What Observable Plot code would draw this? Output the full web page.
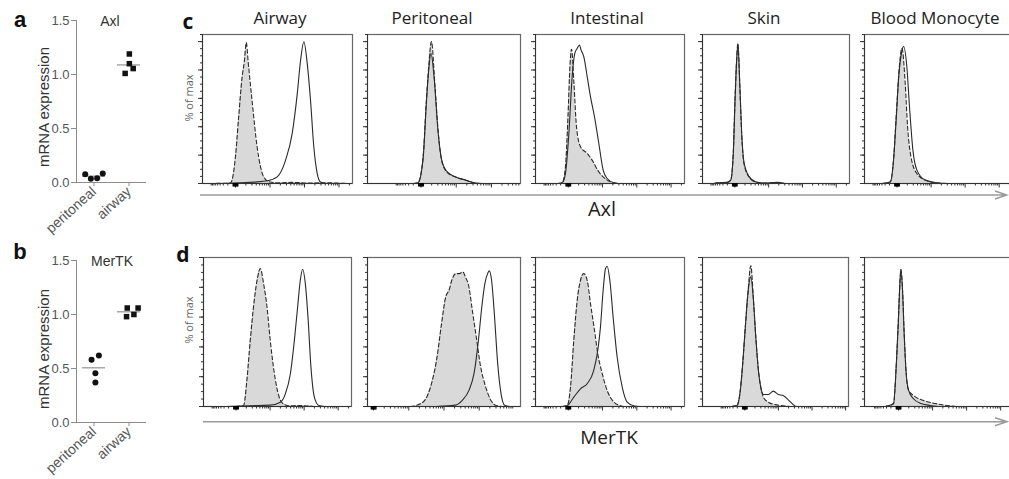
<!DOCTYPE html>
<html><head><meta charset="utf-8">
<script src="https://cdn.jsdelivr.net/npm/d3@7"></script>
<script src="https://cdn.jsdelivr.net/npm/@observablehq/plot@0.6"></script>
<style>
body{margin:0;background:#fff;}
#fig{position:relative;width:1009px;height:479px;overflow:hidden;background:#fff;}
.t{position:absolute;white-space:nowrap;line-height:1;transform:translate(-50%,-50%);}
.os{font-family:"Open Sans",sans-serif;color:#222;}
.ar{font-family:"Liberation Sans",Arial,sans-serif;color:#333;}
</style></head><body><div id="fig"></div>
<script>
// ---------- qPCR (panels a, b) ----------
const qpcrCats = ["peritoneal", "airway"];
const axlPeritoneal = [0.077, 0.034, 0.040, 0.083];
const axlPeritonealJitter = [-0.25, -0.09, 0.09, 0.25];
const axlAirway = [1.19, 1.10, 1.055, 1.01];
const axlAirwayJitter = [0.01, 0.01, 0.12, -0.11];
const mertkPeritoneal = [0.58, 0.62, 0.456, 0.37];
const mertkPeritonealJitter = [-0.07, 0.14, 0.04, 0.04];
const mertkAirway = [1.06, 0.98, 1.00, 1.06];
const mertkAirwayJitter = [-0.05, -0.07, 0.14, 0.26];
const qpcrTicks = [0, 0.5, 1.0, 1.5];

// ---------- flow histograms (panels c, d): [channel, % of max] ----------
const tissues = ["Airway", "Peritoneal", "Intestinal", "Skin", "Blood Monocyte"];
const axlIso = {
  Airway: [[5,0],[18.5,0.3],[19.7,2.4],[21.9,18.2],[24.1,46.6],[26.4,75],[27.9,86],[29.2,99.3],[30.5,85],[33,58.8],[36.4,25.9],[40.8,4.7],[45,1],[50,0.5],[60,0.8],[70,0.3],[80,0.5],[90,0.3],[97,0]],
  Peritoneal: [[30,0],[32.9,0.5],[36.3,18],[38.5,58.8],[40,82],[41.8,100],[44,70.6],[46.3,35.3],[48.4,16.5],[51.8,8.2],[57.3,4.7],[64,2.4],[69.6,0.5],[75,0]],
  Intestinal: [[15,0],[17.9,0.5],[20.1,11.7],[21.8,47],[23.1,82],[24.2,94.6],[25.8,70.6],[27.5,40],[30.2,25.9],[34.7,21.2],[38,16.5],[42.5,8.2],[48.1,2.4],[52.6,0.5],[56,0]],
  Skin: [[8,0],[10,0.5],[17,0.8],[19.2,2.4],[21,23.5],[22.1,58.8],[23.2,87],[24.1,98.9],[25.3,70.6],[26.6,35.3],[28.2,14.1],[31.6,4.7],[36.1,1],[42,0.3],[50.8,0.6],[56,0]],
  "Blood Monocyte": [[12,0],[17.4,1],[19.6,16.5],[21.4,47],[23.2,77.6],[25.3,95.3],[27.5,70.6],[29.1,40],[31.4,18.8],[35.4,7],[42.2,1.9],[50,0.3],[56,0]]
};
const axlStain = {
  Airway: [[15,0],[25,0.5],[35,1],[43,1.9],[49.8,4.7],[55.4,16.5],[59.8,35.3],[63.2,63.5],[65.4,87],[67.6,99.9],[69.8,84.8],[72,58.8],[74.2,25.9],[76.5,7],[78.7,1],[82,0]],
  Peritoneal: [[30,0],[33,0.5],[36.3,17],[38.5,57],[40,80],[41.5,91.8],[43.5,75],[46,38],[48.4,17],[51.8,8.5],[57.3,4.7],[64,2.4],[69.6,0.5],[75,0]],
  Intestinal: [[15,0],[17.9,0.5],[20.1,7],[22.4,35.3],[24.6,75.3],[26.4,91.8],[28,95.3],[29.5,97.6],[30.6,94],[32.4,89.4],[34.7,75.3],[36.9,61.2],[39.6,47],[42.5,28.2],[45.4,9.4],[48.1,3.5],[52.6,0.5],[56,0]],
  Skin: [[8,0],[10,0.5],[17,0.8],[19.2,2.4],[21,22],[22.1,57],[23.2,86],[24.1,97.5],[25.3,72],[26.6,37],[28.2,15],[31.6,5],[36.1,1.2],[42,0.3],[50.8,0.8],[56,0]],
  "Blood Monocyte": [[12,0],[17.4,1],[19.6,16],[21.4,45],[23.2,76],[25.2,93],[26.4,96.5],[28.6,82.3],[30.4,54],[32.7,23.5],[35.4,9.4],[41,2.4],[48.9,0.5],[55,0]]
};
const mertkIso = {
  Airway: [[22,0],[27.1,0.7],[29.3,17.5],[31.6,44.4],[34.3,71.3],[36.6,87],[38.4,92.6],[40.6,82.5],[42.9,66.8],[45.1,44.4],[47.9,22],[50.8,7.4],[54.2,1.6],[58,0.5],[65,0.6],[75,0]],
  Peritoneal: [[28,0],[31.8,0.7],[37.3,4],[41.8,15.3],[45.1,30.9],[48.4,55.6],[51.1,73.5],[53.3,78],[55.1,84.7],[57.8,89.2],[60,89.2],[62.3,90.3],[64,87],[66.3,80.2],[68.5,64.6],[71.1,46.6],[74,26.4],[77.3,13],[80.7,4],[84,0.7],[88,0]],
  Intestinal: [[18,0],[21.3,0.7],[23.5,13],[25.7,44.4],[28,71.3],[30.2,84.7],[32.4,89.2],[34.7,84.7],[36.9,69],[39.6,51.1],[41.8,35.4],[44.8,22],[48.1,10.8],[52.6,3],[57,0.5],[60,0]],
  Skin: [[20,0],[23.6,0.7],[25.9,10.8],[27.7,30.9],[29.5,55.6],[31.1,75.8],[33.1,94.5],[34.9,71.3],[36.5,46.6],[38.3,24.2],[39.9,13],[41.7,6.3],[45.1,2.9],[49.7,1.3],[55.3,0.5],[60,0]],
  "Blood Monocyte": [[14,0],[19.6,1.8],[21.4,26.4],[22.8,55.6],[23.7,78],[24.6,91.9],[25.7,78],[26.8,48.9],[28.2,22],[29.8,10.8],[33.1,7.4],[39.9,4],[46.6,2.2],[55.7,0.7],[62,0]]
};
const mertkStain = {
  Airway: [[15,0],[30,0.5],[45.1,0.9],[51.9,2.9],[55.3,8.5],[58.7,22],[61.4,44.4],[63.6,66.8],[65.4,84.7],[67,92.1],[68.8,82.5],[70.6,60],[72.6,26.4],[74.9,6.3],[77.9,0.7],[82,0]],
  Peritoneal: [[45,0],[57.3,0.9],[61.8,4],[66.3,10.8],[69.6,22],[72.5,44.4],[74.7,66.8],[76.7,82.5],[78.5,89.2],[79.6,91],[81.1,84.7],[82.9,62.3],[85.1,28.7],[87.3,8.5],[89.6,0.9],[93,0]],
  Intestinal: [[18,0],[21.3,0.5],[25.7,6.3],[30.2,11.9],[34.7,15.3],[39.1,24.2],[41.8,37.7],[43.6,53.3],[45.4,78],[47,92.6],[48.1,94.1],[49.9,84.7],[52.1,60],[54.8,33.2],[58.2,13],[61.5,3],[66,0.5],[70,0]],
  Skin: [[20,0],[23.6,0.7],[25.9,10.8],[27.7,30.9],[29.5,55.6],[31.1,75.8],[33.1,87],[34.9,71.3],[36.5,46.6],[38.3,24.2],[39.9,13],[41.7,8.1],[45.1,8.1],[48.5,10.3],[51.9,8.1],[55.3,7.4],[58.7,4.5],[62.1,1.3],[64.4,0],[68,0]],
  "Blood Monocyte": [[14,0],[19.6,1.8],[21.4,26.4],[22.8,55.6],[23.7,78],[24.6,91.9],[25.7,78],[26.8,48.9],[28.2,22],[29.8,10.8],[33.1,5.2],[37.6,2.2],[44.4,0.7],[50,0]]
};
const pctMajorTicks = [0, 20, 40, 60, 80, 100];

// ---------- layout ----------
const fig = document.getElementById("fig");
function place(el, left, top) {
  el.style.position = "absolute"; el.style.left = left + "px"; el.style.top = top + "px";
  fig.appendChild(el);
}
function text(str, x, y, cls, style) {
  const d = document.createElement("div");
  d.className = "t " + cls; d.textContent = str;
  d.style.left = x + "px"; d.style.top = y + "px";
  Object.assign(d.style, style || {});
  fig.appendChild(d);
}

function qpcrPlot(peri, periJ, air, airJ) {
  const pts = [
    ...peri.map((v, i) => ({cat: 1, j: periJ[i], v, s: "circle"})),
    ...air.map((v, i) => ({cat: 2, j: airJ[i], v, s: "square"}))
  ];
  const means = [{cat: 1, m: d3.mean(peri)}, {cat: 2, m: d3.mean(air)}];
  return Plot.plot({
    width: 160, height: 232, marginLeft: 76, marginRight: 14, marginTop: 20, marginBottom: 50,
    style: {background: "transparent", overflow: "visible"},
    x: {domain: [0.5, 2.5]},
    y: {domain: [0, 1.5]},
    marks: [
      Plot.ruleX([0.5], {stroke: "#8c8c8c"}),
      Plot.ruleY([0], {stroke: "#8c8c8c"}),
      Plot.axisY(qpcrTicks, {tickSize: 5, tickFormat: d3.format(".1f"), fontSize: 13, label: null,
        stroke: "#8c8c8c", fill: "#555", tickPadding: 2, fontFamily: "Liberation Sans, Arial, sans-serif"}),
      Plot.axisX([1, 2], {tickSize: 4, tickFormat: d => qpcrCats[d - 1], tickRotate: -42, fontSize: 14, label: null,
        stroke: "#8c8c8c", fill: "#555", tickPadding: 3, fontFamily: "Liberation Sans, Arial, sans-serif"}),
      Plot.ruleY(means, {y: "m", x1: d => d.cat - 0.33, x2: d => d.cat + 0.33, stroke: "#9a9a9a", strokeWidth: 1.3}),
      Plot.dot(pts, {x: d => d.cat + d.j, y: "v", symbol: "s", r: d => d.s === "square" ? 2.8 : 2.6, fill: "#111", stroke: "none"})
    ]
  });
}

function xTicksFor(zero) {
  const majors = [0, 23, 46, 69].map(k => zero + k).filter(v => v >= 0 && v <= 100);
  const minors = [];
  [0, 23, 46, 69].forEach(k => {
    for (let m = 2; m <= 9; m++) minors.push(zero + k + 23 * Math.log10(m));
  });
  for (let m = 2; m <= 9; m++) minors.push(zero - 17 * Math.log10(m));
  const cluster = [-1.5, -0.9, -0.3, 0.3, 0.9, 1.5].map(k => zero + k);
  const inR = v => v > 0.5 && v < 99.5;
  return {majors: majors.filter(inR), minors: minors.filter(inR), cluster: cluster.filter(inR)};
}

function histPlot(iso, stain, w, h, ymax, zero) {
  const ml = 12, mr = 2, mt = 2, mb = 8;
  const isoD = iso.map(([x, y]) => ({x, y}));
  const stD = stain.map(([x, y]) => ({x, y}));
  const tk = xTicksFor(zero);
  const axisOpts = {tickFormat: () => "", label: null, stroke: "#333"};
  const svg = Plot.plot({
    width: w + ml + mr, height: h + mt + mb,
    marginLeft: ml, marginRight: mr, marginTop: mt, marginBottom: mb,
    style: {background: "transparent", overflow: "visible"},
    x: {domain: [0, 100]},
    y: {domain: [0, ymax]},
    marks: [
      Plot.areaY(isoD, {x: "x", y: "y", curve: "monotone-x", fill: "#d9d9d9"}),
      Plot.lineY(stD, {x: "x", y: "y", curve: "monotone-x", stroke: "#2a2a2a", strokeWidth: 1.1}),
      Plot.lineY(isoD, {x: "x", y: "y", curve: "monotone-x", stroke: "#2a2a2a", strokeWidth: 1.1, strokeDasharray: "4,2.5"}),
      Plot.frame({stroke: "#666", strokeWidth: 1.2}),
      Plot.ruleX([0], {stroke: "#333"}),
      Plot.ruleY([0], {stroke: "#333"}),
      Plot.axisY(d3.range(0, ymax + 0.1, 5), {...axisOpts, tickSize: 2}),
      Plot.axisY(pctMajorTicks, {...axisOpts, tickSize: 4}),
      Plot.axisX(tk.minors, {...axisOpts, tickSize: 2.5}),
      Plot.axisX(tk.majors, {...axisOpts, tickSize: 4.5}),
      Plot.axisX(tk.cluster, {...axisOpts, tickSize: 3.5, strokeWidth: 1.4, stroke: "#000"})
    ]
  });
  return {svg, ml, mt};
}

// panels a, b
place(qpcrPlot(axlPeritoneal, axlPeritonealJitter, axlAirway, axlAirwayJitter), 0, 0);
place(qpcrPlot(mertkPeritoneal, mertkPeritonealJitter, mertkAirway, mertkAirwayJitter), 0, 240.3);

// panels c, d
const rows = [
  {iso: axlIso, stain: axlStain, top: 34, h: 149, ymax: 105,
   lefts: [202, 367, 535, 702, 864], widths: [150, 153, 149, 147, 148], zeros: [22, 35, 22, 22, 22]},
  {iso: mertkIso, stain: mertkStain, top: 257, h: 149, ymax: 100,
   lefts: [203, 367, 535, 702, 864], widths: [148, 153, 149, 146, 148], zeros: [22, 4, 22, 29, 23]}
];
rows.forEach(r => {
  tissues.forEach((t, i) => {
    const p = histPlot(r.iso[t], r.stain[t], r.widths[i], r.h, r.ymax, r.zeros[i]);
    place(p.svg, r.lefts[i] - p.ml, r.top - p.mt);
  });
});

// axis arrows under rows
const ns = "http://www.w3.org/2000/svg";
const ov = document.createElementNS(ns, "svg");
ov.setAttribute("width", 1009); ov.setAttribute("height", 479);
ov.style.position = "absolute"; ov.style.left = "0px"; ov.style.top = "0px"; ov.style.pointerEvents = "none";
[[200, 195], [203, 421.7]].forEach(([x0, y]) => {
  const p = document.createElementNS(ns, "path");
  p.setAttribute("d", `M${x0},${y}H1007M995,${y - 4}L1007,${y}L995,${y + 4}`);
  p.setAttribute("stroke", "#9a9a9a"); p.setAttribute("stroke-width", "1.5"); p.setAttribute("fill", "none");
  ov.appendChild(p);
});
fig.appendChild(ov);

// texts
text("a", 20, 20, "ar", {fontSize: "22px", fontWeight: "bold", color: "#111"});
text("b", 20, 252, "ar", {fontSize: "22px", fontWeight: "bold", color: "#111"});
text("c", 188, 21, "os", {fontSize: "21px", fontWeight: "bold", color: "#111"});
text("d", 183, 254, "os", {fontSize: "21px", fontWeight: "bold", color: "#111"});
text("Axl", 110, 21, "ar", {fontSize: "14px"});
text("MerTK", 112, 261, "ar", {fontSize: "14px"});
text("mRNA expression", 42.5, 107, "ar", {fontSize: "15px", transform: "translate(-50%,-50%) rotate(-90deg)"});
text("mRNA expression", 42.5, 349, "ar", {fontSize: "15px", transform: "translate(-50%,-50%) rotate(-90deg)"});
const titleX = [280, 432, 607, 764, 935];
tissues.forEach((t, i) => text(t, titleX[i], 17, "os", {fontSize: "17px"}));
text("% of max", 188, 98, "os", {fontSize: "11px", color: "#666", transform: "translate(-50%,-50%) rotate(-90deg)"});
text("% of max", 188, 320, "os", {fontSize: "11px", color: "#666", transform: "translate(-50%,-50%) rotate(-90deg)"});
text("Axl", 602, 209, "os", {fontSize: "20px"});
text("MerTK", 609, 437, "os", {fontSize: "19px"});
</script></body></html>
